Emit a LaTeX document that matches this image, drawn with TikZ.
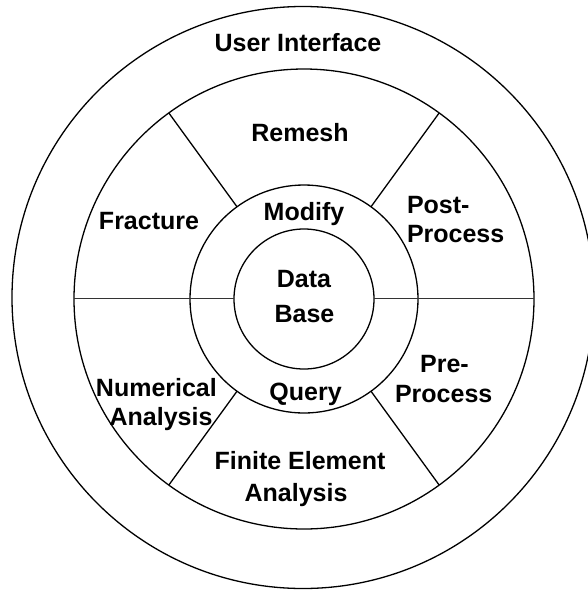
\documentclass[tikz,border=0pt]{standalone}
\usepackage{fontspec}
\setmainfont{Liberation Sans}
\usetikzlibrary{calc}
\begin{document}
\begin{tikzpicture}[x=1pt,y=-1pt,
  ring/.style={draw=black,line width=1.3pt},
  spoke/.style={draw=black,line width=1.3pt},
  hline/.style={draw=black!80,line width=1.7pt},
  lbl/.style={inner sep=0pt,outer sep=0pt,font=\bfseries\fontsize{25}{30}\selectfont,anchor=base}]
\useasboundingbox (0,0) rectangle (588,590);
\clip (0,0) rectangle (588,590);
\coordinate (c) at (304,299);
\coordinate (co) at (303,297.5);
% circles
\draw[ring] (co) circle[radius=291];
\draw[ring] (c) circle[radius=230];
\draw[ring] (c) circle[radius=114];
\draw[ring] (c) circle[radius=70];
% horizontal dividers
\coordinate (hL1) at (74,298.5);
\coordinate (hL2) at (234,298.5);
\coordinate (hR1) at (374,298.5);
\coordinate (hR2) at (534,298.5);
\draw[hline] (hL1) -- (hL2);
\draw[hline] (hR1) -- (hR2);
% radial dividers
\foreach \a/\n in {-54/ur,-126/ul,126/ll,54/lr}{
  \coordinate (\n1) at ($(c)+(\a:114)$);
  \coordinate (\n2) at ($(c)+(\a:230)$);
  \draw[spoke] (\n1) -- (\n2);
}
% labels
\node[lbl] (ui) at (298,51) {User Interface};
\node[lbl] (remesh) at (300,141.7) {Remesh};
\node[lbl] (modify) at (304,220.5) {Modify};
\node[lbl] (fracture) at (149,229) {Fracture};
\node[lbl,anchor=base west] (post1) at (407,213) {Post-};
\node[lbl,anchor=base west] (post2) at (407,242.7) {Process};
\node[lbl] (data) at (304,287) {Data};
\node[lbl] (dbase) at (304.5,322.7) {Base};
\node[lbl] (pre1) at (444.5,372.7) {Pre-};
\node[lbl] (pre2) at (443.7,402.3) {Process};
\node[lbl] (query) at (305.6,400) {Query};
\node[lbl] (num1) at (156.4,396.7) {Numerical};
\node[lbl] (num2) at (161,425) {Analysis};
\node[lbl] (fe1) at (300,469) {Finite Element};
\node[lbl] (fe2) at (296,501.7) {Analysis};
\end{tikzpicture}
\end{document}
